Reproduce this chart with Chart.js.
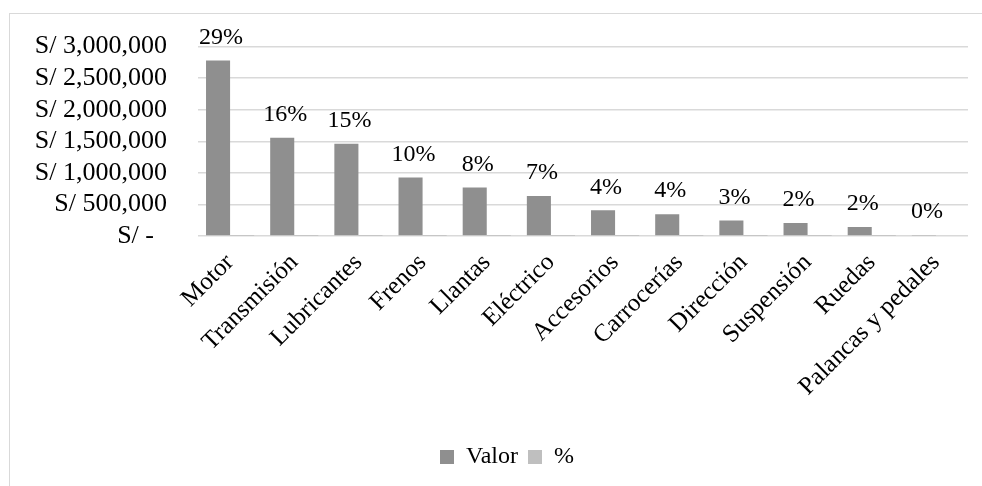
<!DOCTYPE html>
<html>
<head>
<meta charset="utf-8">
<script src="https://cdn.jsdelivr.net/npm/chart.js@4/dist/chart.umd.min.js"></script>
<style>
  html, body { margin: 0; padding: 0; background: #fff; }
  #grafico { display: block; }
</style>
</head>
<body>
<canvas id="grafico" width="982" height="486"></canvas>
<script>
// Datos del gráfico
const categorias = ['Motor', 'Transmisión', 'Lubricantes', 'Frenos', 'Llantas', 'Eléctrico',
    'Accesorios', 'Carrocerías', 'Dirección', 'Suspensión', 'Ruedas', 'Palancas y pedales'];
const valores = [2780000, 1555000, 1461000, 927000, 770000, 633000,
    408000, 346000, 245000, 204000, 141000, 16000];
const porcentajes = [29, 16, 15, 10, 8, 7, 4, 4, 3, 2, 2, 0];
const etiquetasEjeY = ['S/ -  ', 'S/ 500,000', 'S/ 1,000,000', 'S/ 1,500,000',
    'S/ 2,000,000', 'S/ 2,500,000', 'S/ 3,000,000'];

const fuente = '"Liberation Serif", "Times New Roman", serif';

// marco gris del gráfico + leyenda corrida hacia el centro del área de barras
const marco = {
    id: 'marco',
    afterLayout(chart) {
        chart.legend.left += 46;
    },
    beforeDraw(chart) {
        const ctx = chart.ctx;
        ctx.save();
        ctx.strokeStyle = '#d9d9d9';
        ctx.lineWidth = 1;
        ctx.strokeRect(9.5, 13.5, 1200, 1000);
        ctx.restore();
    }
};

// porcentaje encima de cada barra de Valor
const etiquetas = {
    id: 'etiquetas',
    afterDatasetsDraw(chart) {
        const ctx = chart.ctx;
        const meta = chart.getDatasetMeta(0);
        ctx.save();
        ctx.font = '24px ' + fuente;
        ctx.fillStyle = '#000';
        ctx.textAlign = 'center';
        ctx.textBaseline = 'bottom';
        meta.data.forEach((barra, i) => {
            ctx.fillText(porcentajes[i] + '%', barra.x + 3, barra.y - 11);
        });
        ctx.restore();
    }
};

new Chart(document.getElementById('grafico'), {
    type: 'bar',
    data: {
        labels: categorias,
        datasets: [
            {
                label: 'Valor',
                data: valores,
                backgroundColor: '#8f8f8f',
                categoryPercentage: 0.75,
                barPercentage: 1
            },
            {
                // serie de porcentajes: sobre el eje de soles no tiene altura visible
                label: '%',
                data: porcentajes.map(p => p / 100),
                backgroundColor: '#bfbfbf',
                categoryPercentage: 0.75,
                barPercentage: 1
            }
        ]
    },
    options: {
        responsive: false,
        animation: false,
        layout: { padding: { top: 45, right: 14, bottom: 7, left: 0 } },
        plugins: {
            tooltip: { enabled: false },
            legend: {
                position: 'bottom',
                labels: {
                    color: '#000',
                    font: { family: fuente, size: 24 },
                    boxWidth: 14,
                    boxHeight: 14,
                    padding: 10
                }
            }
        },
        scales: {
            x: {
                grid: { display: false },
                border: { display: false },
                ticks: {
                    color: '#000',
                    font: { family: fuente, size: 25 },
                    maxRotation: 45,
                    minRotation: 45,
                    autoSkip: false,
                    padding: 4
                },
                afterFit(scale) { scale.height = 199; }
            },
            y: {
                min: 0,
                max: 3000000,
                border: { display: false },
                grid: { color: '#d9d9d9', lineWidth: 1.5, drawTicks: false },
                ticks: {
                    stepSize: 500000,
                    autoSkip: false,
                    color: '#000',
                    font: { family: fuente, size: 26 },
                    padding: 31,
                    callback: (v, i) => etiquetasEjeY[i]
                },
                afterFit(scale) { scale.width = 198; }
            }
        }
    },
    plugins: [marco, etiquetas]
});
</script>
</body>
</html>
